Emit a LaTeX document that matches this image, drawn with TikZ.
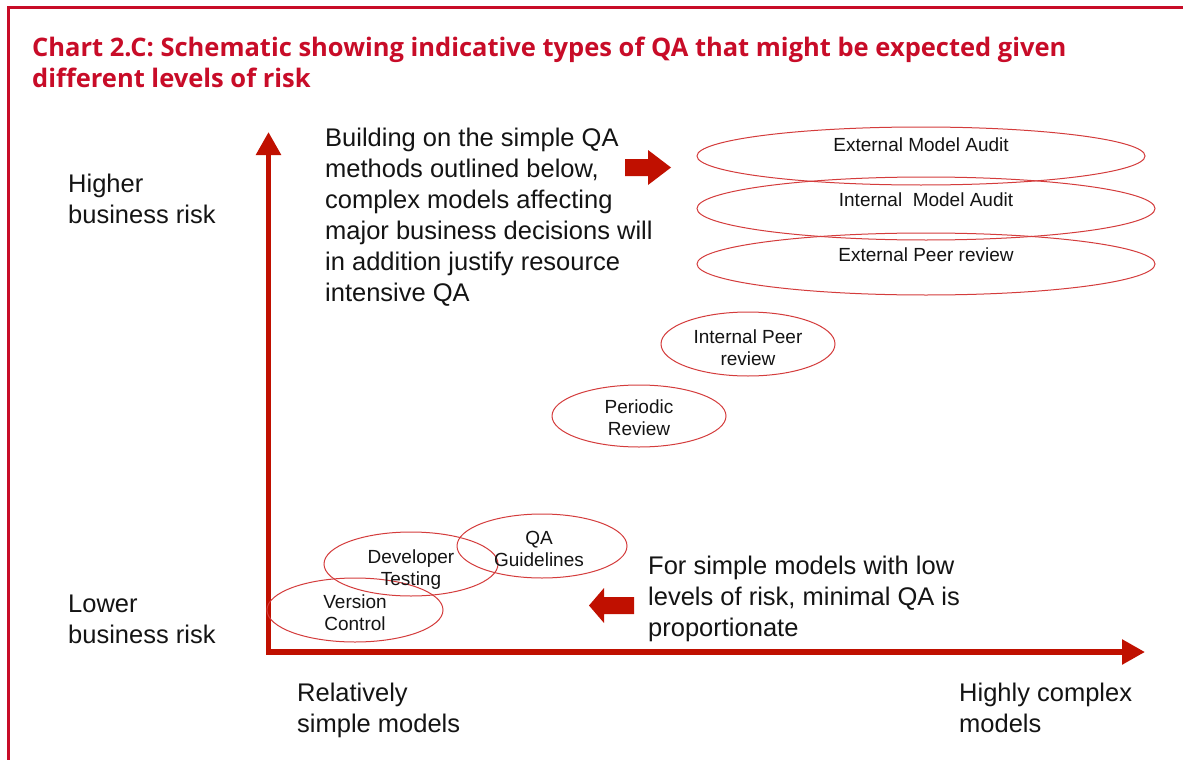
\documentclass[tikz,border=0pt]{standalone}
\usepackage{fontspec}
\setmainfont{Liberation Sans}
\newfontfamily\titlefont{Open Sans}
\usetikzlibrary{shapes.geometric,arrows.meta}
\definecolor{titlered}{RGB}{200,12,40}
\definecolor{axisred}{RGB}{192,16,0}
\definecolor{ellred}{RGB}{212,60,60}
\definecolor{txt}{RGB}{20,20,20}
\begin{document}
\begin{tikzpicture}[x=1pt,y=-1pt,
  title/.style={font=\titlefont\bfseries\fontsize{25.5}{31}\selectfont, text=titlered, anchor=base west, inner sep=0},
  body/.style={font=\fontsize{25.5}{31}\selectfont, align=left, anchor=base west, inner sep=0, text=txt},
  oval/.style={draw=ellred, line width=1pt, ellipse, inner sep=0},
  lbl/.style={font=\fontsize{19}{22}\selectfont, align=center, anchor=base, inner sep=0, text=txt},
  axis/.style={draw=axisred, line width=5.5pt, {Triangle[width=24pt,length=23pt]}-{Triangle[width=24pt,length=23pt]}},
  blockarrow/.style={fill=axisred, draw=none},
]
\useasboundingbox (0,0) rectangle (1183,760);
\fill[white] (0,0) rectangle (1183,760);
% frame
\draw[titlered, line width=3.5pt] (8.7,760) -- (8.7,7.5) -- (1183,7.5);
% title
\node[title] (t1) at (32,57) {Chart 2.C: Schematic showing indicative types of QA that might be expected given};
\node[title] (t2) at (32,88) {different levels of risk};
% axes
\coordinate (O) at (268.5,652);
\coordinate (ytip) at (268.5,132);
\coordinate (xtip) at (1145,652);
\draw[axis] (ytip) -- (O) -- (xtip);
% ellipses
\node[oval, minimum width=448pt, minimum height=58pt] (ema) at (921,156) {};
\node[oval, minimum width=458pt, minimum height=63pt] (ima) at (926,208.5) {};
\node[oval, minimum width=458pt, minimum height=62pt] (epr) at (926,264) {};
\node[oval, minimum width=174pt, minimum height=64pt] (ipr) at (748,344) {};
\node[oval, minimum width=174pt, minimum height=62pt] (per) at (639,416) {};
\node[oval, minimum width=170pt, minimum height=64pt] (qag) at (542,546) {};
\node[oval, minimum width=174pt, minimum height=64pt] (dev) at (411,564) {};
\node[oval, minimum width=176pt, minimum height=64pt] (ver) at (355,610) {};
% ellipse labels (anchor = baseline of last line)
\node[lbl] (lema) at (921,151) {External Model Audit};
\node[lbl] (lima) at (926,206) {Internal\ \ Model Audit};
\node[lbl] (lepr) at (926,261) {External Peer review};
\node[lbl] (lipr) at (748,365) {Internal Peer\\review};
\node[lbl] (lper) at (639,435) {Periodic\\Review};
\node[lbl] (lqag) at (539,566) {QA\\Guidelines};
\node[lbl] (ldev) at (411,585) {Developer\\Testing};
\node[lbl] (lver) at (355,630) {Version\\Control};
% body texts
\node[body] (hi) at (68,223) {Higher\\business risk};
\node[body] (lo) at (68,643) {Lower\\business risk};
\node[body] (rel) at (297,732) {Relatively\\simple models};
\node[body] (hc) at (959,732) {Highly complex\\models};
\node[body] (build) at (325,301) {Building on the simple QA\\methods outlined below,\\complex models affecting\\major business decisions will\\in addition justify resource\\intensive QA};
\node[body] (simp) at (648,636) {For simple models with low\\levels of risk, minimal QA is\\proportionate};
% block arrows
\fill[blockarrow] (625,159) -- (648,159) -- (648,150) -- (671,167.5) -- (648,185) -- (648,176) -- (625,176) -- cycle;
\fill[blockarrow] (634,597) -- (604,597) -- (604,588) -- (589,605.5) -- (604,623) -- (604,614) -- (634,614) -- cycle;
\end{tikzpicture}
\end{document}
